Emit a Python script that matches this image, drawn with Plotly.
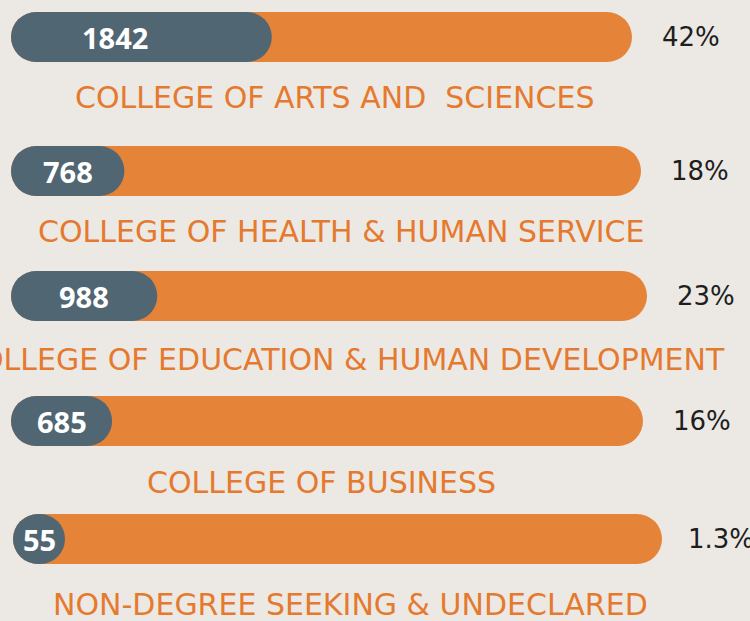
import plotly.graph_objects as go

# ---- data ----
categories = [
    "COLLEGE OF ARTS AND  SCIENCES",
    "COLLEGE OF HEALTH & HUMAN SERVICE",
    "COLLEGE OF EDUCATION & HUMAN DEVELOPMENT",
    "COLLEGE OF BUSINESS",
    "NON-DEGREE SEEKING & UNDECLARED",
]
counts = [1842, 768, 988, 685, 55]
pct_values = [42, 18, 23, 16, 1.3]
pct_labels = ["42%", "18%", "23%", "16%", "1.3%"]

# ---- layout (pixel-like axes) ----
row_y = [37, 171, 296, 421, 539]
label_y = [97, 231, 359, 482, 604]
label_dx = [13, 15, 13, -6, 13]
track_start = [11, 11, 11, 11, 13]
track_len = [621, 630, 636, 632, 649]
bar_h = 50
radius = 25

BG = "#ECE9E5"
ORANGE = "#E58338"
SLATE = "#506673"
LABEL_ORANGE = "#E57A2E"
FONT = "Open Sans"
LABEL_FONT = "DejaVu Sans"

fig = go.Figure()


def pill(starts, lengths, color, name):
    fig.add_trace(go.Bar(
        y=row_y, x=lengths, base=starts,
        orientation="h", width=bar_h,
        marker=dict(color=color, line=dict(width=0), cornerradius=radius),
        hoverinfo="skip", showlegend=False, name=name))


# orange tracks (100%)
pill(track_start, track_len, ORANGE, "track")
# slate portion proportional to share (min = a circle)
dark_len = [max(p / 100 * L, bar_h + 2) for p, L in zip(pct_values, track_len)]
pill(track_start, dark_len, SLATE, "count")

annotations = []
for i in range(len(categories)):
    annotations.append(dict(
        x=track_start[i] + min(dark_len[i] / 2, 104), y=row_y[i], xref="x", yref="y",
        text=str(counts[i]), showarrow=False,
        font=dict(family=FONT, size=29, color="white", weight=700),
        xanchor="center", yanchor="middle"))
    annotations.append(dict(
        x=track_start[i] + track_len[i] + 59, y=row_y[i], xref="x", yref="y",
        text=pct_labels[i], showarrow=False,
        font=dict(family=LABEL_FONT, size=26, color="#1E1E1E"), xanchor="center", yanchor="middle"))
    annotations.append(dict(
        x=track_start[i] + track_len[i] / 2 + label_dx[i], y=label_y[i], xref="x", yref="y",
        text=categories[i].replace("  ", " \u00a0"), showarrow=False,
        font=dict(family=LABEL_FONT, size=30, color=LABEL_ORANGE), xanchor="center", yanchor="middle"))

fig.update_layout(
    width=750, height=621,
    margin=dict(l=0, r=0, t=0, b=0),
    paper_bgcolor=BG, plot_bgcolor=BG,
    barmode="overlay",
    xaxis=dict(range=[0, 750], visible=False, fixedrange=True),
    yaxis=dict(range=[621, 0], visible=False, fixedrange=True),
    annotations=annotations,
)

fig.write_html("out.html", config={"displayModeBar": False},
               post_script="document.body.style.margin='0';document.body.style.overflow='hidden';")
